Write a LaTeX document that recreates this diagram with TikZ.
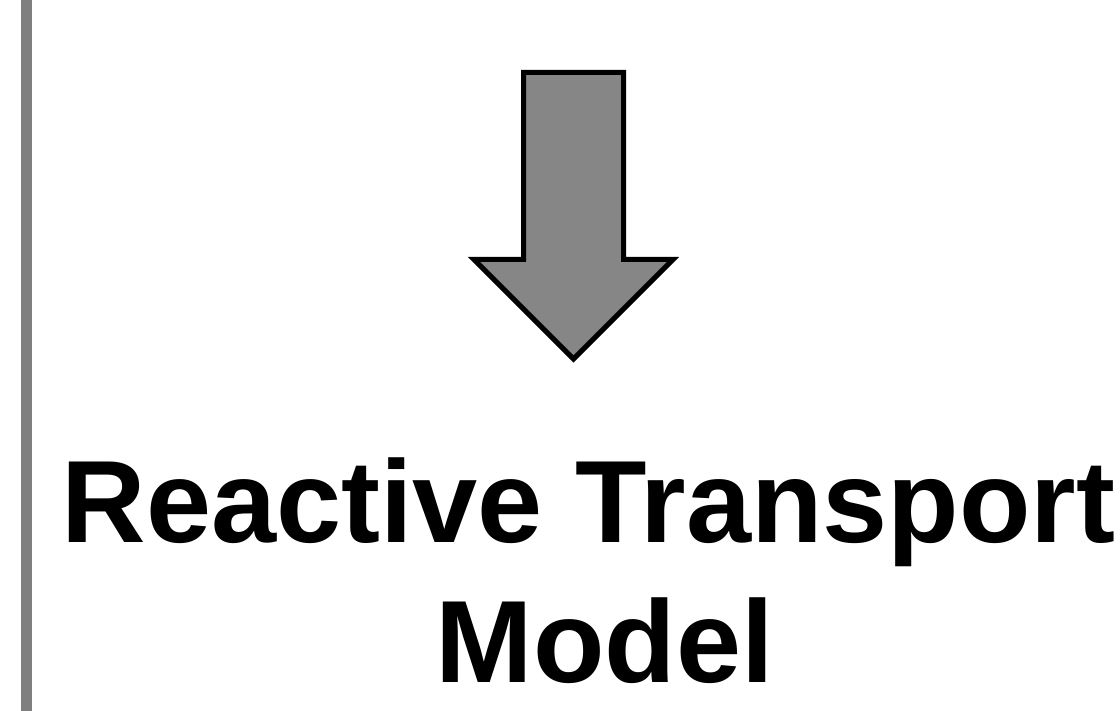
\documentclass[tikz,border=0pt]{standalone}
\usepackage{fontspec}
\setmainfont{Liberation Sans}
\definecolor{railgray}{HTML}{7F7F7F}
\definecolor{arrowgray}{HTML}{868686}
\tikzset{
  rail/.style={fill=railgray, draw=none},
  bigarrow/.style={fill=arrowgray, draw=black, line width=5pt, miter limit=10},
  heading/.style={anchor=base west, inner sep=0pt, font=\bfseries\fontsize{117}{140}\selectfont}
}
\begin{document}
\begin{tikzpicture}[x=1pt, y=-1pt]
  \useasboundingbox (0,0) rectangle (1120,711);
  % vertical rail on the left edge
  \fill[rail] (21,0) rectangle (32,711);
  % block arrow pointing down
  \draw[bigarrow] (523.5,72.5) -- (623.5,72.5) -- (623.5,259.5) -- (673,259.5)
    -- (573.5,359) -- (474,259.5) -- (523.5,259.5) -- cycle;
  % title below the arrow
  \node[heading] (title1) at (61.5,542) {Reactive Transport};
  \node[heading] (title2) at (435.5,682) {Model};
\end{tikzpicture}
\end{document}
